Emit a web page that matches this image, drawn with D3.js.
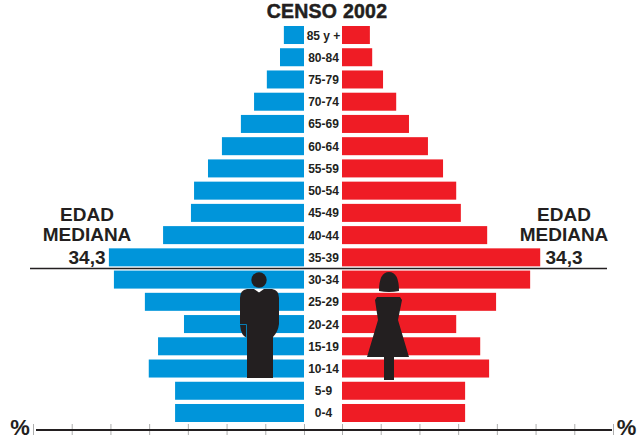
<!DOCTYPE html>
<html>
<head>
<meta charset="utf-8">
<style>
  html, body { margin: 0; padding: 0; background: #fff; }
  svg { display: block; }
  text { font-family: "Liberation Sans", Arial, sans-serif; font-weight: bold; fill: #231f20; }
</style>
</head>
<body>
<svg class="pyramid" width="637" height="443"></svg>
<script src="https://cdn.jsdelivr.net/npm/d3@7"></script>
<script>
var ageGroups = ["85 y +", "80-84", "75-79", "70-74", "65-69", "60-64", "55-59", "50-54", "45-49",
    "40-44", "35-39", "30-34", "25-29", "20-24", "15-19", "10-14", "5-9", "0-4"];

// % of population (one axis tick = 1 %)
var men = [0.52, 0.62, 0.96, 1.29, 1.63, 2.12, 2.48, 2.84, 2.92, 3.64, 5.04, 4.91, 4.11, 3.10, 3.77, 4.01, 3.33, 3.33];
var women = [0.72, 0.78, 1.06, 1.40, 1.73, 2.22, 2.61, 2.95, 3.07, 3.75, 5.12, 4.86, 3.98, 2.95, 3.57, 3.80, 3.18, 3.18];

var axisTicks = [0, 1, 2, 3, 4, 5, 6, 7];
var medianAge = "34,3";

var blue = "#0095da",
    red = "#ef1c25",
    ink = "#231f20";

var svg = d3.select("svg.pyramid");

var xLeft = d3.scaleLinear().domain([0, 7]).range([304, 33]),
    xRight = d3.scaleLinear().domain([0, 7]).range([342, 613]),
    y = d3.scaleBand().domain(ageGroups).range([24, 424]).paddingInner(0.19).paddingOuter(0.09);

// title
svg.append("text")
    .attr("x", 327).attr("y", 17.5)
    .attr("text-anchor", "middle")
    .style("font-size", "19.5px")
    .style("letter-spacing", "0.25px")
    .style("stroke", ink).style("stroke-width", 0.5)
    .text("CENSO 2002");

// bars
svg.append("g").selectAll("rect")
    .data(men)
    .join("rect")
    .attr("x", function(d) { return xLeft(d); })
    .attr("y", function(d, i) { return y(ageGroups[i]); })
    .attr("width", function(d) { return xLeft(0) - xLeft(d); })
    .attr("height", y.bandwidth())
    .attr("fill", blue);

svg.append("g").selectAll("rect")
    .data(women)
    .join("rect")
    .attr("x", xRight(0))
    .attr("y", function(d, i) { return y(ageGroups[i]); })
    .attr("width", function(d) { return xRight(d) - xRight(0); })
    .attr("height", y.bandwidth())
    .attr("fill", red);

// age labels
svg.append("g").selectAll("text")
    .data(ageGroups)
    .join("text")
    .attr("x", 323.5)
    .attr("y", function(d) { return y(d) + y.bandwidth() / 2 + 4.5; })
    .attr("text-anchor", "middle")
    .style("font-size", "12px")
    .text(function(d) { return d; });

// median line
svg.append("line")
    .attr("x1", 30).attr("x2", 607)
    .attr("y1", 268.5).attr("y2", 268.5)
    .attr("stroke", ink).attr("stroke-width", 1.3);

// median captions
[87, 564].forEach(function(cx) {
    ["EDAD", "MEDIANA", medianAge].forEach(function(t, i) {
        svg.append("text")
            .attr("x", cx)
            .attr("y", [221, 241, 263.5][i])
            .attr("text-anchor", "middle")
            .style("font-size", "19px")
            .style("font-weight", "bold")
            .text(t);
    });
});

// silhouettes
var man = svg.append("g").attr("fill", ink);
man.append("circle").attr("cx", 259).attr("cy", 280).attr("r", 7.7);
man.append("path").attr("d", "M247,289 L254,289 L259,292.5 L264,289 L272,289 Q279,290 279,298 L279,324 Q278,332 273,337 L273,378 L247,378 L247,338 Q241,336 240,325 L240,298 Q240,290 247,289 Z");
man.append("path").attr("d", "M240,324.5 L246.5,324.5 L246.5,338").attr("fill", "none").attr("stroke", blue).attr("stroke-width", 0.8);

var woman = svg.append("g").attr("fill", ink);
woman.append("path").attr("d", "M379,291 Q379,272 389,272 Q399,272 399,291 Q389,293 379,291 Z");
woman.append("path").attr("d", "M377,297 L400,297 L402,300 L398,320 L409,357 L394,357 L394,380 L384,380 L384,357 L367,357 L378,320 L375,300 Z");

// axes, no labels on the ticks
var axisY = 430;
[xLeft, xRight].forEach(function(scale) {
    var g = svg.append("g")
        .attr("transform", "translate(0," + axisY + ")")
        .call(d3.axisBottom(scale).tickValues(axisTicks).tickSize(5).tickFormat(""));
    g.select(".domain").remove();
    g.selectAll("line").attr("y1", -6).attr("y2", 5).attr("stroke", "#999").attr("stroke-width", 0.8);
});
svg.append("line")
    .attr("x1", 36).attr("x2", 612)
    .attr("y1", axisY).attr("y2", axisY)
    .attr("stroke", ink).attr("stroke-width", 2);

svg.append("text").attr("x", 20).attr("y", 435).attr("text-anchor", "middle").style("font-size", "22px").text("%");
svg.append("text").attr("x", 626.5).attr("y", 435).attr("text-anchor", "middle").style("font-size", "22px").text("%");
</script>
</body>
</html>
